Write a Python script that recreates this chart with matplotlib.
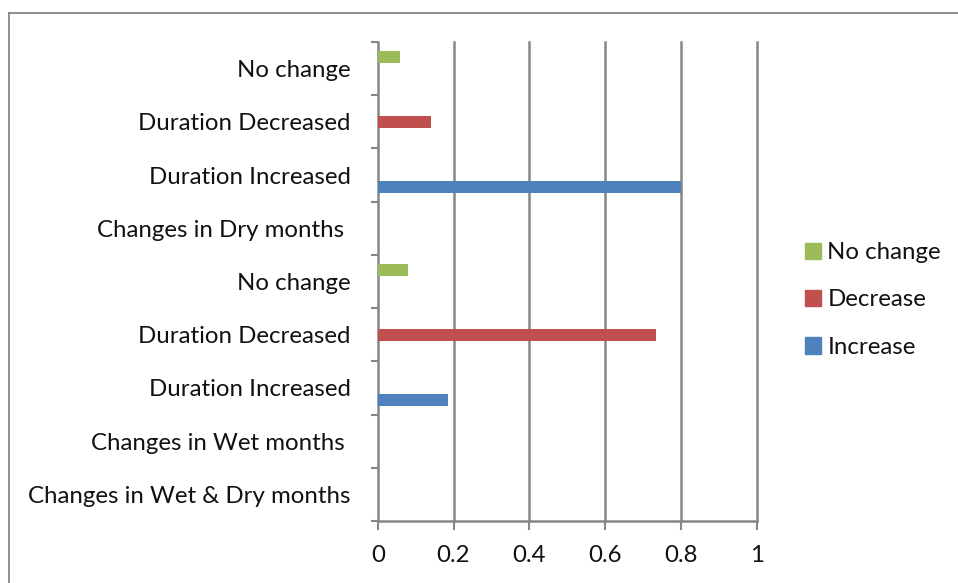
import matplotlib
matplotlib.use("Agg")
import matplotlib.pyplot as plt
from matplotlib.patches import Patch
from matplotlib.lines import Line2D
import numpy as np

plt.rcParams['font.family'] = ['Lato', 'DejaVu Sans']

categories = ["Changes in Wet & Dry months", "Changes in Wet months ", "Duration Increased",
              "Duration Decreased", "No change", "Changes in Dry months ",
              "Duration Increased", "Duration Decreased", "No change"]
increase = [0, 0, 0.185, 0, 0, 0, 0.80, 0, 0]
decrease = [0, 0, 0, 0.735, 0, 0, 0, 0.14, 0]
no_change = [0, 0, 0, 0, 0.08, 0, 0, 0, 0.06]
xticks = [0, 0.2, 0.4, 0.6, 0.8, 1]
xticklabels = ["0", "0.2", "0.4", "0.6", "0.8", "1"]

W, H = 958, 583
FS = 17.3
fig = plt.figure(figsize=(W / 100, H / 100), dpi=100)
ax = fig.add_axes([377.7 / W, 1 - 521 / H, (756.7 - 377.7) / W, (521 - 42) / H])

grid = '#868686'
bw = 1 / 4.5
y = np.arange(len(categories))
ax.barh(y - bw, increase, height=bw, color='#4F81BD', label='Increase', zorder=3)
ax.barh(y, decrease, height=bw, color='#C0504D', label='Decrease', zorder=3)
ax.barh(y + bw, no_change, height=bw, color='#9BBB59', label='No change', zorder=3)

ax.set_xlim(0, 1)
ax.set_ylim(-0.5, len(categories) - 0.5)
ax.set_xticks(xticks)
ax.set_xticklabels(xticklabels, fontsize=FS)
ax.set_yticks(y)
ax.set_yticklabels(categories, fontsize=FS, color='#111111')
ax.set_yticks(np.arange(-0.5, len(categories), 1), minor=True)
ax.tick_params(axis='y', which='major', length=0, pad=19.5)
ax.tick_params(axis='y', which='minor', length=5, width=1.5, color=grid)
ax.tick_params(axis='x', which='major', length=6.5, width=1.5, color=grid, pad=10.5,
               labelcolor='#111111')
for xv in xticks[1:]:
    ax.axvline(xv, color=grid, lw=1.8, zorder=1, clip_on=False)
for s in ['top', 'right']:
    ax.spines[s].set_visible(False)
for s in ['left', 'bottom']:
    ax.spines[s].set_color(grid)
    ax.spines[s].set_linewidth(1.8)

handles = [Patch(color='#9BBB59', label='No change'),
           Patch(color='#C0504D', label='Decrease'),
           Patch(color='#4F81BD', label='Increase')]
leg = fig.legend(handles=handles, loc='center left', bbox_to_anchor=(805 / W, 1 - 300 / H),
                 frameon=False, fontsize=FS, handlelength=0.68, handleheight=0.68,
                 handletextpad=0.25, labelspacing=1.09, borderpad=0, borderaxespad=0)
for t in leg.get_texts():
    t.set_color('#111111')

fig.add_artist(Line2D([8.5 / W, 8.5 / W], [0, 1 - 12.5 / H], transform=fig.transFigure,
                      color=grid, lw=1.3))
fig.add_artist(Line2D([8.5 / W, 1], [1 - 12.5 / H, 1 - 12.5 / H], transform=fig.transFigure,
                      color=grid, lw=1.3))

fig.savefig('out.png', dpi=100)
